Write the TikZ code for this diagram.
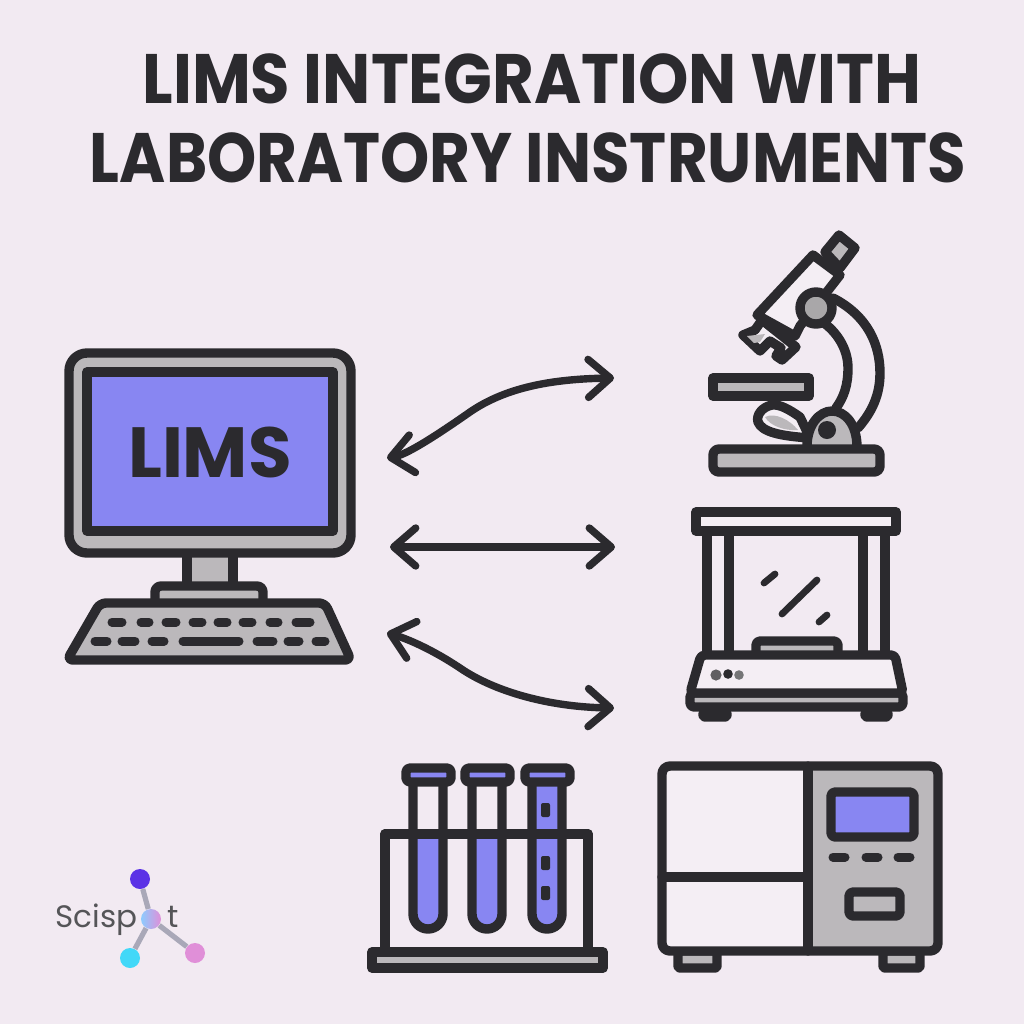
\documentclass[tikz,border=0pt]{standalone}
\usepackage{graphicx}
\usepackage{fontspec}
\usetikzlibrary{arrows.meta}
\usetikzlibrary{backgrounds}
\newfontfamily\titlefont{Poppins}
\newfontfamily\logofont{Poppins}
\definecolor{paper}{HTML}{F2EAF2}
\definecolor{light}{HTML}{F4EEF4}
\definecolor{ink}{HTML}{2B2A2E}
\definecolor{steel}{HTML}{BBB8BB}
\definecolor{violet}{HTML}{8886F2}
\definecolor{logotop}{HTML}{5B32E6}
\definecolor{logoleft}{HTML}{42D8F8}
\definecolor{logoright}{HTML}{E08FD8}
\definecolor{logostem}{HTML}{A9A8B8}
\tikzset{
	outline/.style={draw=ink, line width=4.7pt, line join=round, line cap=round},
	key/.style={draw=ink, line width=4.5pt, line cap=round},
	link/.style={draw=ink, line width=3.7pt, line cap=round,
		{Straight Barb[length=11pt,width=19pt,line width=3.7pt,round]}-{Straight Barb[length=11pt,width=19pt,line width=3.7pt,round]}},
	heading/.style={font=\titlefont\fontsize{33}{33}\selectfont\bfseries, text=ink, inner sep=0pt},
	stem/.style={draw=logostem, line width=2.6pt},
	dot/.style={circle, minimum size=10pt, inner sep=0pt}
}
\begin{document}
\begin{tikzpicture}[x=0.5pt,y=-0.5pt]
	\begin{pgfonlayer}{background}
		\fill[paper] (0,0) rectangle (1024,1024);
	\end{pgfonlayer}
	\useasboundingbox (0,0) rectangle (1024,1024);
	%% The Title
	\node[heading] (title1) at (532,79) {\scalebox{.971}[1.06]{LIMS INTEGRATION WITH}};
	\node[heading] (title2) at (528,158) {\scalebox{.949}[1.06]{LABORATORY INSTRUMENTS}};
	%% The Computer
	\draw[outline,fill=steel] (187,550) rectangle (233,590);
	\draw[outline,fill=steel] (155,603) -- (155,592) [rounded corners=3pt] -- (155,586) -- (263,586) [sharp corners] -- (263,603);
	\draw[outline,fill=steel,rounded corners=9pt] (69,353) rectangle (351,553);
	\draw[outline,fill=violet] (87,372) rectangle (333,531);
	\node[font=\titlefont\fontsize{35.5}{35.5}\selectfont\bfseries,text=ink,inner sep=0pt] (lims) at (210,452) {LIMS};
	\draw[outline,fill=steel,rounded corners=3pt] (100,603) -- (325,603) -- (351,660) -- (67,660) -- cycle;
	\foreach \a/\b in {112/122,141/149,166/176,193/202,218/227,243/252,270/278,296/310}
		\draw[key] (\a,622) -- (\b,622);
	\foreach \a/\b in {95/107,122/135,152/164,183/239,257/273,288/299,316/325}
		\draw[key] (\a,641) -- (\b,641);
	%% The Links
	\coordinate (a1) at (387,458);
	\coordinate (b1) at (614,378);
	\coordinate (a2) at (390,547);
	\coordinate (b2) at (615,547);
	\coordinate (a3) at (387,633);
	\coordinate (b3) at (614,708);
	\draw[link] (a1) .. controls (405,455) and (430,440) .. (470,412) .. controls (505,388) and (550,379) .. (b1);
	\draw[link] (a2) -- (b2);
	\draw[link] (a3) .. controls (405,638) and (430,648) .. (460,668) .. controls (495,692) and (550,707) .. (b3);
	%% The Microscope
	\draw[outline] (833,298) .. controls (868,316) and (880,345) .. (880,373) .. controls (880,395) and (872,412) .. (858,428);
	\draw[outline] (824,323) .. controls (840,335) and (848,352) .. (848,368) .. controls (848,385) and (844,397) .. (836,408);
	\draw[outline,fill=light] (813,255) -- (840,275) -- (826,293) -- (800,326) -- (795,336) -- (757,315) -- cycle;
	\draw[outline,fill=steel] (839,235) -- (855,248) -- (840,268) -- (825,252) -- cycle;
	\draw[outline,fill=light] (743,335) -- (755,330) -- (762,320) -- (796,347) -- (782,360) -- (776,356) -- (781,348) -- (770,341) -- (760,351) -- cycle;
	\fill[steel] (747,336) -- (765,334) -- (760,342) -- (754,343) -- cycle;
	\draw[outline,fill=steel!70!gray] (816,308) circle (8pt);
	\draw[outline,fill=steel] (713,378) rectangle (809,396);
	\draw[outline,fill=light] (800,417) .. controls (790,410) and (780,404) .. (772,405) .. controls (762,407) and (756,415) .. (758,422) .. controls (762,432) and (780,436) .. (810,438) -- cycle;
	\fill[steel] (765,417) .. controls (775,412) and (790,420) .. (798,430) .. controls (785,431) and (770,426) .. (765,417);
	\draw[outline,fill=steel] (807,447) .. controls (807,424) and (820,411) .. (832,411) .. controls (845,411) and (857,424) .. (857,447);
	\fill[ink] (827,430) circle (4.5pt);
	\draw[outline,fill=steel,rounded corners=3pt] (713,449) rectangle (880,472);
	%% The Balance
	\draw[outline] (707,531) -- (707,655) (729,531) -- (729,655) (863,531) -- (863,655) (885,531) -- (885,655);
	\draw[outline,fill=light] (696,512) rectangle (896,531);
	\draw[outline,fill=steel,rounded corners=2pt] (756,655) -- (756,641) -- (838,641) -- (838,655);
	\draw[outline,fill=ink,rounded corners=1pt] (703,712) rectangle (727,717);
	\draw[outline,fill=ink,rounded corners=1pt] (865,712) rectangle (888,717);
	\draw[outline,fill=steel,rounded corners=2pt] (690,693) -- (903,693) -- (903,707) -- (690,707) -- cycle;
	\draw[outline,fill=light,rounded corners=2pt] (701,655) -- (895,655) -- (903,693) -- (690,693) -- cycle;
	\draw[line width=3.4pt,ink,line cap=round] (764,583) -- (775,574) (782,614) -- (817,580) (819,622) -- (827,615);
	\fill[ink!75] (716,675) circle (2.8pt);
	\fill[ink] (728,674) circle (2.4pt);
	\fill[ink!65] (739,675) circle (2.4pt);
	%% The Tubes
	\draw[outline,fill=steel] (372,952) rectangle (603,968);
	\draw[outline] (385,950) -- (385,834) -- (588,834) -- (588,950);
	\foreach \x in {428,487,547} {
		\fill[violet] (\x-15,838) -- (\x-15,914) arc (180:0:15) -- (\x+15,838) -- cycle;
	}
	\fill[violet] (532,786) rectangle (562,838);
	\foreach \x in {428,487,547} {
		\draw[outline] (\x-15,786) -- (\x-15,914) arc (180:0:15) -- (\x+15,786);
		\draw[outline,fill=violet,rounded corners=2pt] (\x-22,768) rectangle (\x+23,782);
	}
	\draw[outline] (385,834) -- (588,834);
	\foreach \y in {810,863,893}
		\fill[ink,rounded corners=1pt] (541,\y-7) rectangle (550,\y+7);
	%% The Analyzer
	\draw[outline,fill=steel,rounded corners=1pt] (678,951) rectangle (717,968);
	\draw[outline,fill=steel,rounded corners=1pt] (883,951) rectangle (920,968);
	\fill[steel] (808,766) rectangle (938,951);
	\fill[light] (662,766) rectangle (808,951);
	\draw[outline,rounded corners=4pt] (662,766) rectangle (938,951);
	\draw[outline] (808,766) -- (808,951) (662,877) -- (808,877);
	\draw[outline,fill=violet,rounded corners=2pt] (831,792) rectangle (914,837);
	\foreach \a/\b in {833/845,866/878,898/910}
		\draw[key] (\a,857) -- (\b,857);
	\draw[outline,fill=steel,rounded corners=2pt] (849,892) rectangle (900,916);
	%% The Logo
	\node[font=\logofont\fontsize{15.5}{15.5}\selectfont,text=ink!80,anchor=base west,inner sep=0pt] (brand) at (55,927) {Scisp\hspace{11pt} t};
	\node[dot,fill=logotop] (top) at (140,879) {};
	\node[dot,left color=blue!45!cyan!45,right color=logoright] (hub) at (151,919) {};
	\node[dot,fill=logoleft] (left) at (130,958) {};
	\node[dot,fill=logoright] (right) at (195,953) {};
	\begin{pgfonlayer}{background}
		\draw[stem] (top) -- (hub);
		\draw[stem] (left) -- (hub);
		\draw[stem] (right) -- (hub);
	\end{pgfonlayer}
\end{tikzpicture}
\end{document}
